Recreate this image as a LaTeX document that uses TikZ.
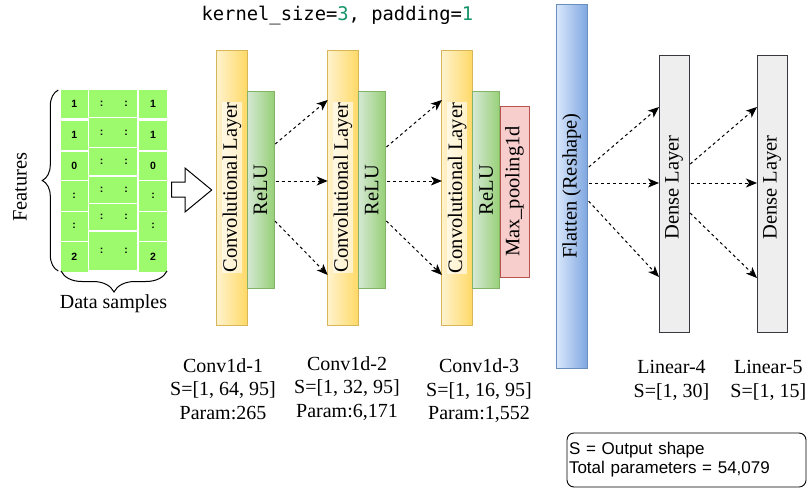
\documentclass[tikz,border=0pt]{standalone}
\usepackage{fontspec}
\setmainfont{Liberation Serif}
\newfontfamily\sansfnt{Liberation Sans}
\newfontfamily\monofnt{DejaVu Sans Mono}
\usetikzlibrary{arrows.meta,decorations.pathreplacing}

\definecolor{convA}{HTML}{FFF2CC}
\definecolor{convB}{HTML}{FFD966}
\definecolor{convLine}{HTML}{D6B656}
\definecolor{reluA}{HTML}{D5E8D4}
\definecolor{reluB}{HTML}{97D077}
\definecolor{reluLine}{HTML}{82B366}
\definecolor{poolFill}{HTML}{F8CECC}
\definecolor{poolLine}{HTML}{B85450}
\definecolor{flatA}{HTML}{DAE8FC}
\definecolor{flatB}{HTML}{7EA6E0}
\definecolor{flatLine}{HTML}{6C8EBF}
\definecolor{denseFill}{HTML}{EEEEEE}
\definecolor{denseLine}{HTML}{36393D}
\definecolor{cellGreen}{HTML}{9CFA6C}
\definecolor{codeGreen}{HTML}{16936B}

\begin{document}
\begin{tikzpicture}[x=1pt,y=-1pt,
  layer/.style={draw, line width=0.9pt, inner sep=0pt, outer sep=0pt},
  convbox/.style={layer, draw=convLine, left color=convA, right color=convB,
    minimum width=30.6pt, minimum height=275pt},
  relubox/.style={layer, draw=reluLine, left color=reluA, right color=reluB,
    minimum width=27pt, minimum height=197pt},
  poolbox/.style={layer, draw=poolLine, fill=poolFill,
    minimum width=29pt, minimum height=171pt},
  flatbox/.style={layer, draw=flatLine, left color=flatA, right color=flatB,
    minimum width=31.6pt, minimum height=364pt},
  densebox/.style={layer, draw=denseLine, fill=denseFill,
    minimum width=30pt, minimum height=277pt},
  vtext/.style={rotate=90, font=\fontsize{20.5}{24}\selectfont, inner sep=0.5pt},
  convtext/.style={vtext, fill=white, fill opacity=0.6, text opacity=1},
  caption/.style={align=center, font=\fontsize{20}{23.5}\selectfont, inner sep=0pt},
  celltext/.style={font=\sansfnt\bfseries\fontsize{10.5}{11}\selectfont, inner sep=0pt},
  flow/.style={line width=1pt, dash pattern=on 3pt off 3pt, shorten <=1.5pt,
    -{Stealth[length=11pt,width=9pt,inset=3pt]}},
  bracebar/.style={line width=1pt, decorate},
]
\useasboundingbox (0,0) rectangle (808,488);

% ---- input data matrix ----
\foreach \ya/\yb/\t in {90/118.3/1, 120.7/150/1, 151.7/180/0,
                        181/210.7/:, 211.7/240.7/:, 242.3/271.7/2} {
  \fill[cellGreen] (60.7,\ya) rectangle (87.7,\yb);
  \fill[cellGreen] (139.3,\ya) rectangle (166.7,\yb);
  \node[celltext] at (74.2,{(\ya+\yb)/2}) {\t};
  \node[celltext] at (153,{(\ya+\yb)/2}) {\t};
}
\foreach \ya/\yb in {90/116.7, 118.3/146.7, 147.7/175, 176.7/203.3,
                     204.3/230, 231.7/270} {
  \fill[cellGreen] (89,\ya) rectangle (136.7,\yb);
  \node[celltext] at (101.7,{(\ya+\yb)/2}) {:};
  \node[celltext] at (126,{(\ya+\yb)/2}) {:};
}

% braces and their labels
\draw[bracebar, decoration={brace, amplitude=16pt}] (58.3,271) -- (58.3,90);
\draw[bracebar, decoration={brace, amplitude=21pt}] (167,271) -- (61,271);
\node[vtext, inner sep=0pt] (feat) at (20,187) {Features};
\node[caption] (samples) at (113.5,304) {Data samples};

% hollow block arrow into the network
\draw[line width=1pt, fill=white]
  (171.7,182) -- (185,182) -- (185,168) -- (211.7,190) -- (185,212)
  -- (185,197) -- (171.7,197) -- cycle;

% ---- convolution blocks ----
\node[font=\monofnt\fontsize{18.8}{22}\selectfont, inner sep=0pt] (ks) at (337.4,16)
  {kernel\textunderscore size=\textcolor{codeGreen}{3}, padding=\textcolor{codeGreen}{1}};

\node[convbox] (c1) at (232,187.5) {};
\node[relubox] (r1) at (260.5,190) {};
\node[convbox] (c2) at (343,187.5) {};
\node[relubox] (r2) at (371.8,190) {};
\node[convbox] (c3) at (457.2,188) {};
\node[relubox] (r3) at (486.3,190) {};
\node[poolbox] (p3) at (514.5,191.5) {};

\node[convtext] at (c1) {Convolutional Layer};
\node[convtext] at (c2) {Convolutional Layer};
\node[convtext] at (c3) {Convolutional Layer};
\node[vtext] at (r1) {ReLU};
\node[vtext] at (r2) {ReLU};
\node[vtext] at (r3) {ReLU};
\node[vtext] at (p3) {Max\textunderscore pooling1d};

% ---- flatten and dense blocks ----
\node[flatbox] (fl) at (571.8,186) {};
\node[vtext] at (fl) {Flatten (Reshape)};
\node[densebox] (d1) at (674,193.5) {};
\node[densebox] (d2) at (772,193.5) {};
\node[vtext] at ([yshift=6pt]d1.center) {Dense Layer};
\node[vtext] at ([yshift=6pt]d2.center) {Dense Layer};

% ---- connections ----
\draw[flow] ([yshift=45pt]r1.east) -- ([yshift=87.5pt]c2.west);
\draw[flow] ([yshift=9pt]r1.east) -- ([yshift=6.5pt]c2.west);
\draw[flow] ([yshift=-30pt]r1.east) -- ([yshift=-87.5pt]c2.west);

\draw[flow] ([yshift=42pt]r2.east) -- ([yshift=88pt]c3.west);
\draw[flow] ([yshift=9pt]r2.east) -- ([yshift=7pt]c3.west);
\draw[flow] ([yshift=-30pt]r2.east) -- ([yshift=-87pt]c3.west);

\draw[flow] ([yshift=18pt]fl.east) -- ([yshift=86.5pt]d1.west);
\draw[flow] ([yshift=3pt]fl.east) -- ([yshift=10.5pt]d1.west);
\draw[flow] ([yshift=-14pt]fl.east) -- ([yshift=-83.5pt]d1.west);

\draw[flow] ([yshift=28.5pt]d1.east) -- ([yshift=86.5pt]d2.west);
\draw[flow] ([yshift=10.5pt]d1.east) -- ([yshift=10.5pt]d2.west);
\draw[flow] ([yshift=-18.5pt]d1.east) -- ([yshift=-84.5pt]d2.west);

% ---- captions ----
\node[caption] (cap1) at (223,389) {Conv1d-1\\S=[1, 64, 95]\\Param:265};
\node[caption] (cap2) at (347,388.5) {Conv1d-2\\S=[1, 32, 95]\\Param:6,171};
\node[caption] (cap3) at (479,391) {Conv1d-3\\S=[1, 16, 95]\\Param:1,552};
\node[caption] (cap4) at (671.5,380.5) {Linear-4\\S=[1, 30]};
\node[caption] (cap5) at (768.3,380.5) {Linear-5\\S=[1, 15]};

% ---- legend ----
\node[draw, line width=0.9pt, rounded corners=7pt, inner sep=2pt,
      text width=235pt, minimum height=54pt, align=left,
      font=\sansfnt\fontsize{17}{19}\selectfont] (key) at (686.5,460)
  {S = Output shape\\Total parameters = 54,079};
\end{tikzpicture}
\end{document}
